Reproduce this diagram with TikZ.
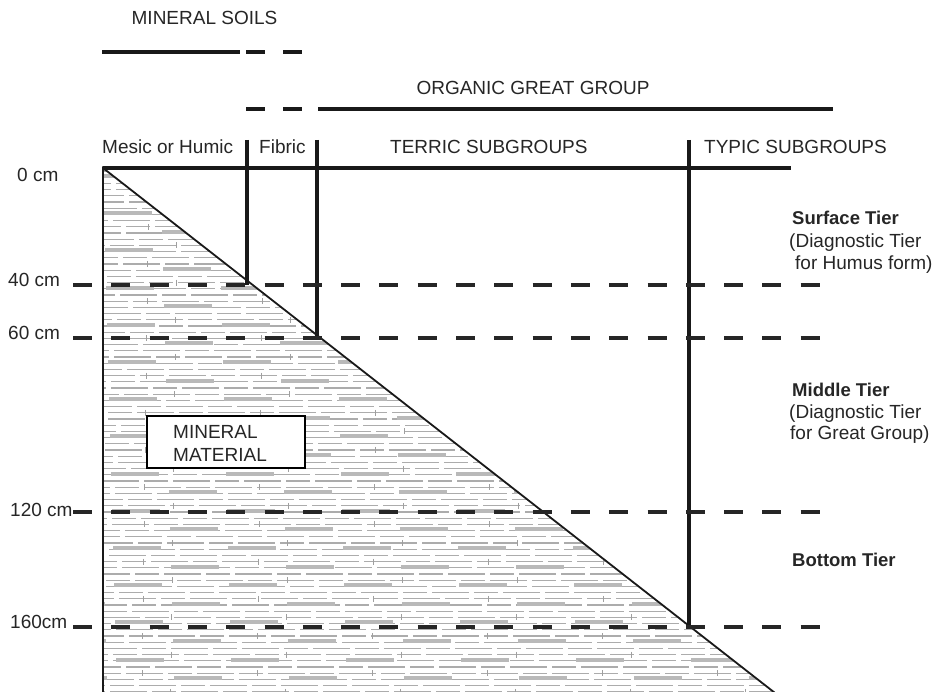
\documentclass[tikz,border=0pt]{standalone}
\usepackage{fontspec}
\setmainfont{Liberation Sans}
\begin{document}
\begin{tikzpicture}[x=1pt,y=-1pt,
    lbl/.style={font=\fontsize{19}{23}\selectfont,text=black!85,inner sep=0pt},
    tier/.style={lbl,font=\fontsize{18.5}{23}\selectfont\bfseries},
    rule/.style={line width=3.2pt,black!90},
    depthline/.style={line width=3.8pt,black!85,dash pattern=on 19pt off 19.3pt},
    brick/.style={gray!65,line width=1.3pt}]
    \useasboundingbox (0,0) rectangle (932,692);
    %% Mineral material
    \coordinate (T) at (103,168);
    \coordinate (L) at (103,700);
    \coordinate (R) at (784,700);
    \begin{scope}
        \clip (T) -- (R) -- (L) -- cycle;
        \foreach \k in {0,...,86} {
            \pgfmathsetmacro{\yy}{171+6.2*\k}
            \pgfmathsetmacro{\ph}{mod(\k*29,71)}
            \draw[brick,dash pattern=on 24pt off 5pt on 37pt off 5pt,dash phase=\ph pt] (103,\yy) -- (800,\yy);
        }
        \foreach \k in {0,...,29} {
            \pgfmathsetmacro{\yy}{176+18.6*\k}
            \pgfmathsetmacro{\ph}{mod(\k*57,115)}
            \draw[gray!55,line width=4pt,dash pattern=on 48pt off 67pt,dash phase=\ph pt] (103,\yy) -- (800,\yy);
            \foreach \xx in {0,...,6}
                \draw[gray!75,line width=0.8pt] ({120+\ph/2+115*\xx},\yy-8) -- ++(0,6);
        }
    \end{scope}
    \draw[line width=1.8pt,black!90] (L) -- (T) -- (R);
    %% Header
    \draw[rule] (T) -- (791,168);
    \draw[rule] (102,52) -- (240,52);
    \draw[rule,dash pattern=on 19pt off 18pt] (246,52) -- (303,52);
    \draw[rule,dash pattern=on 19pt off 18pt] (246,109) -- (303,109);
    \draw[rule] (318,109) -- (833,109);
    \draw[rule] (247,140) -- (247,285);
    \draw[rule] (317,140) -- (317,338);
    \draw[rule] (689,140) -- (689,627);
    \node[lbl,anchor=base] (minsoil) at (204.5,24.5) {MINERAL SOILS};
    \node[lbl,anchor=base] (orggg) at (533,94.5) {ORGANIC GREAT GROUP};
    \node[lbl,anchor=base west] (mesic) at (102,153.5) {Mesic or Humic};
    \node[lbl,anchor=base west] (fibric) at (259,153.5) {Fibric};
    \node[lbl,anchor=base west] (terric) at (390,153.5) {TERRIC SUBGROUPS};
    \node[lbl,anchor=base west] (typic) at (704,153.5) {TYPIC SUBGROUPS};
    %% Depths
    \draw[depthline] (73,285) -- (820,285);
    \draw[depthline] (73,338) -- (820,338);
    \draw[depthline] (73,512) -- (820,512);
    \draw[depthline] (73,627) -- (820,627);
    \node[lbl,anchor=base west] (d0) at (17,181.5) {0 cm};
    \node[lbl,anchor=base west] (d40) at (8,286.5) {40 cm};
    \node[lbl,anchor=base west] (d60) at (8,339.5) {60 cm};
    \node[lbl,anchor=base west] (d120) at (10,516.5) {120 cm};
    \node[lbl,anchor=base west] (d160) at (10,628.5) {160cm};
    %% Tiers
    \node[tier,anchor=base west] (surf) at (792,224.5) {Surface Tier};
    \node[lbl,anchor=base west] (surfa) at (789,248) {(Diagnostic Tier};
    \node[lbl,anchor=base west] (surfb) at (795,269.5) {for Humus form)};
    \node[tier,anchor=base west] (mid) at (792,396.5) {Middle Tier};
    \node[lbl,anchor=base west] (mida) at (789,418.5) {(Diagnostic Tier};
    \node[lbl,anchor=base west] (midb) at (790,439.5) {for Great Group)};
    \node[tier,anchor=base west] (bot) at (792,566.5) {Bottom Tier};
    %% Box
    \node[draw,fill=white,line width=1.8pt,minimum width=158pt,minimum height=52pt,anchor=north west] (box) at (146,415) {};
    \node[lbl,anchor=base west,align=left] (mintxt) at (173,461.5) {MINERAL\\MATERIAL};
\end{tikzpicture}
\end{document}
